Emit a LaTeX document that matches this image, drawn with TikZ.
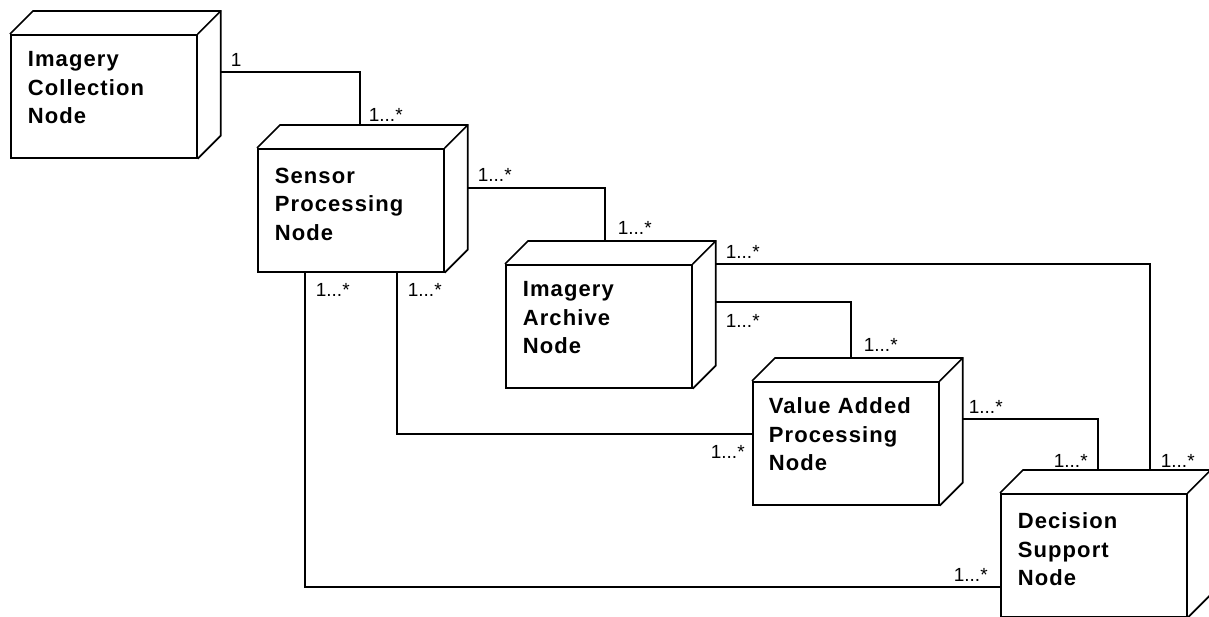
\documentclass[tikz,border=0pt]{standalone}
\usepackage{fontspec}
\setmainfont{Liberation Sans}
\newfontfamily\boxfont[LetterSpace=5]{Liberation Sans}
\usetikzlibrary{calc}
\begin{document}
\begin{tikzpicture}[x=1pt,y=-1pt,
  line width=1.7pt, line join=miter,
  front/.style={draw, rectangle, inner sep=0pt, minimum width=186pt, minimum height=123pt, anchor=north west, fill=white},
  back/.style={rectangle, inner sep=0pt, minimum width=186pt, minimum height=123pt, anchor=north west},
  boxtext/.style={anchor=north west, inner sep=0pt, align=left, font=\boxfont\bfseries\fontsize{22pt}{28.5pt}\selectfont},
  mult/.style={anchor=base west, inner sep=0pt, font=\fontsize{19pt}{22pt}\selectfont},
  conn/.style={draw, line width=1.7pt}]
\useasboundingbox (0,0) rectangle (1209,616);
% back faces (invisible, used for the 3D outline)
\node[back] (n1b) at (33,11) {};
\node[back] (n2b) at (280,125) {};
\node[back] (n3b) at (528,241) {};
\node[back] (n4b) at (775,358) {};
\node[back] (n5b) at (1023,470) {};
% front faces
\node[front] (n1) at (10,34) {};
\node[front] (n2) at (257,148) {};
\node[front] (n3) at (505,264) {};
\node[front] (n4) at (752,381) {};
\node[front] (n5) at (1000,493) {};
\foreach \n in {n1,n2,n3,n4,n5}{
  \draw (\n.north west) -- (\n b.north west) -- (\n b.north east) -- (\n b.south east) -- (\n.south east);
  \draw (\n.north east) -- (\n b.north east);
}
% texts
\node[boxtext] (t1) at ($(n1.north west)+(17,17)$) {Imagery\\Collection\\Node};
\node[boxtext] (t2) at ($(n2.north west)+(17,19)$) {Sensor\\Processing\\Node};
\node[boxtext] (t3) at ($(n3.north west)+(17,17)$) {Imagery\\Archive\\Node};
\node[boxtext] (t4) at ($(n4.north west)+(16,16)$) {Value Added\\Processing\\Node};
\node[boxtext] (t5) at ($(n5.north west)+(17,19)$) {Decision\\Support\\Node};
% connectors
\draw[conn] ($(n1b.north east)+(0,61)$) -| ($(n2b.north west)+(80,0)$);
\draw[conn] ($(n2b.north east)+(0,63)$) -| ($(n3b.north west)+(77,0)$);
\draw[conn] ($(n2.south west)+(48,0)$) |- ($(n5.north west)+(0,94)$);
\draw[conn] ($(n2.south west)+(140,0)$) |- ($(n4.north west)+(0,53)$);
\draw[conn] ($(n3b.north east)+(0,23)$) -| ($(n5b.north west)+(127,0)$);
\draw[conn] ($(n3b.north east)+(0,61)$) -| ($(n4b.north west)+(76,0)$);
\draw[conn] ($(n4b.north east)+(0,61)$) -| ($(n5b.north west)+(75,0)$);
% multiplicities
\node[mult] (m1) at (230,66) {1};
\node[mult] (m2) at (368,121) {1...*};
\node[mult] (m3) at (477,181) {1...*};
\node[mult] (m4) at (617,234) {1...*};
\node[mult] (m5) at (315,296) {1...*};
\node[mult] (m6) at (407,296) {1...*};
\node[mult] (m7) at (725,258) {1...*};
\node[mult] (m8) at (725,327) {1...*};
\node[mult] (m9) at (863,351) {1...*};
\node[mult] (m10) at (968,413) {1...*};
\node[mult] (m11) at (1053,467) {1...*};
\node[mult] (m12) at (1160,467) {1...*};
\node[mult] (m13) at (710,458) {1...*};
\node[mult] (m14) at (953,581) {1...*};
\end{tikzpicture}
\end{document}
